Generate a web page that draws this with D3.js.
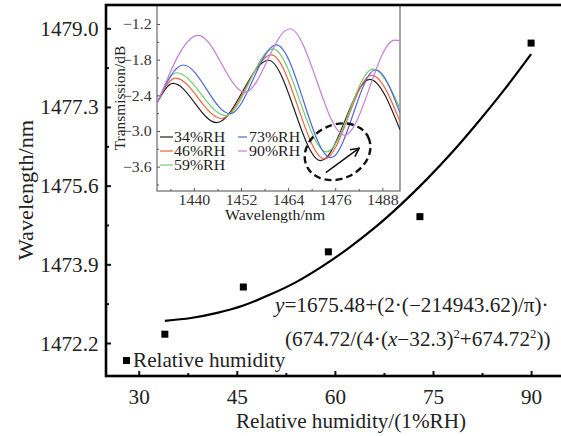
<!DOCTYPE html>
<html>
<head>
<meta charset="utf-8">
<script src="https://cdn.jsdelivr.net/npm/d3@7"></script>
<style>
  body { margin: 0; background: #fff; }
  svg { display: block; font-family: "Liberation Serif", "Times New Roman", serif; }
</style>
</head>
<body>
<svg id="chart" width="561" height="436"></svg>
<script>
// main chart data (humidity vs dip wavelength)
const humidity = [34, 46, 59, 73, 90];
const wavelength = [1472.39, 1473.41, 1474.17, 1474.93, 1478.68];
const xTicks = [30, 45, 60, 75, 90];
const yTicks = [1472.2, 1473.9, 1475.6, 1477.3, 1479.0];

// fitted curve
const fitX = [34, 38, 42, 46, 50, 54, 58, 62, 66, 70, 74, 78, 82, 86, 90];
const fitY = [1472.68, 1472.74, 1472.85, 1473.01, 1473.24, 1473.51, 1473.85, 1474.24,
              1474.68, 1475.18, 1475.73, 1476.33, 1476.99, 1477.69, 1478.44];

// inset spectra (wavelength nm, transmission dB) at extremes
const rhLabels = ['34%RH', '46%RH', '59%RH', '73%RH', '90%RH'];
const rhColors = ['#231f20', '#f2603f', '#72cc6e', '#4d68d6', '#c67ed8'];
const wl34 = [1430.6, 1434.7, 1445.8, 1459.0, 1472.3, 1484.8, 1492.5];
const tr34 = [-2.53, -2.20, -2.86, -1.81, -3.50, -2.13, -2.98];
const wl46 = [1430.6, 1435.3, 1447.0, 1459.7, 1473.3, 1485.3, 1492.5];
const tr46 = [-2.53, -2.11, -2.79, -1.72, -3.47, -2.06, -2.84];
const wl59 = [1430.6, 1435.6, 1448.1, 1460.1, 1473.8, 1485.6, 1492.5];
const tr59 = [-2.53, -2.02, -2.74, -1.62, -3.35, -1.96, -2.62];
const wl73 = [1430.6, 1437.3, 1449.2, 1461.0, 1474.9, 1486.3, 1492.5];
const tr73 = [-2.53, -1.89, -2.71, -1.55, -3.45, -1.97, -2.70];
const wl90 = [1430.6, 1441.1, 1453.0, 1464.4, 1478.4, 1491.1, 1492.5];
const tr90 = [-2.55, -1.39, -2.35, -1.28, -3.07, -1.47, -1.48];
const insetXTicks = [1440, 1452, 1464, 1476, 1488];
const insetYTicks = [-1.2, -1.8, -2.4, -3.0, -3.6];

const svg = d3.select('#chart');
const SX = 1.06; // the picture is a bit wider than normal Times

function label(g, x, y, txt, size, anchor, rot) {
    const t = g.append('text')
        .attr('transform', `translate(${x},${y})` + (rot ? ` rotate(${rot})` : '') + ` scale(${SX},1)`)
        .attr('font-size', size)
        .attr('text-anchor', anchor || 'start')
        .attr('fill', '#222');
    if (txt !== null) t.text(txt);
    return t;
}

// ---------- main plot ----------
const x = d3.scaleLinear().domain([25, 95]).range([106, 563.8]);
const y = d3.scaleLinear().domain([1471.487, 1479.503]).range([376, 5]);

const minorX = [37.5, 52.5, 67.5, 82.5];
const minorY = [1473.05, 1474.75, 1476.45, 1478.15];

const xAxis = svg.append('g').attr('transform', 'translate(0,376)')
    .call(d3.axisBottom(x).tickValues(xTicks).tickSize(-5).tickPadding(14).tickSizeOuter(0));
svg.append('g').attr('transform', 'translate(0,376)')
    .call(d3.axisBottom(x).tickValues(minorX).tickSize(-3).tickFormat('').tickSizeOuter(0));
const yAxis = svg.append('g').attr('transform', 'translate(106,0)')
    .call(d3.axisLeft(y).tickValues(yTicks).tickSize(-5).tickPadding(7)
        .tickFormat(d3.format('.1f')).tickSizeOuter(0));
svg.append('g').attr('transform', 'translate(106,0)')
    .call(d3.axisLeft(y).tickValues(minorY).tickSize(-3).tickFormat('').tickSizeOuter(0));

svg.selectAll('.domain').remove();
svg.selectAll('.tick line').attr('stroke', '#111').attr('stroke-width', 2);
svg.selectAll('.tick text')
    .attr('font-family', '"Liberation Serif", serif')
    .attr('font-size', 20).attr('fill', '#222');
xAxis.selectAll('.tick text').attr('transform', `scale(${SX},1)`).attr('dy', '0.71em');
yAxis.selectAll('.tick text').attr('transform', `scale(${SX},1)`).attr('dy', '0.35em');

// fit curve
const fitLine = d3.line()
    .x((d, i) => x(fitX[i]))
    .y(d => y(d))
    .curve(d3.curveMonotoneX);
svg.append('path').datum(fitY)
    .attr('d', fitLine)
    .attr('fill', 'none').attr('stroke', '#000').attr('stroke-width', 2.2);

// measured points
svg.selectAll('rect.pt').data(humidity).join('rect')
    .attr('class', 'pt')
    .attr('x', d => x(d) - 3.5)
    .attr('y', (d, i) => y(wavelength[i]) - 3.5)
    .attr('width', 7).attr('height', 7)
    .attr('fill', '#000');

// legend for the main plot
svg.append('rect').attr('x', 123).attr('y', 357).attr('width', 7).attr('height', 7).attr('fill', '#000');
label(svg, 133, 367, 'Relative humidity', 20);

// equation
const eq1 = label(svg, 275, 312, null, 20);
eq1.append('tspan').attr('font-style', 'italic').text('y');
eq1.append('tspan').text('=1675.48+(2·(−214943.62)/π)·');
const eq2 = label(svg, 285, 346, null, 20);
eq2.append('tspan').text('(674.72/(4·(');
eq2.append('tspan').attr('font-style', 'italic').text('x');
eq2.append('tspan').text('−32.3)');
eq2.append('tspan').attr('font-size', 12).attr('dy', -8).text('2');
eq2.append('tspan').attr('dy', 8).text('+674.72');
eq2.append('tspan').attr('font-size', 12).attr('dy', -8).text('2');
eq2.append('tspan').attr('dy', 8).text('))');

// axis titles
label(svg, 351, 428, 'Relative humidity/(1%RH)', 20, 'middle');
label(svg, 33, 190, 'Wavelength/nm', 21, 'middle', -90);

// ---------- inset ----------
const ix = d3.scaleLinear().domain([1430.6, 1492.5]).range([157, 400]);
const iy = d3.scaleLinear().domain([-4.01, -0.88]).range([191, 5]);
const inset = svg.append('g');

inset.append('rect')
    .attr('x', 157).attr('y', 5).attr('width', 243).attr('height', 186)
    .attr('fill', '#fff').attr('stroke', '#6a6a6a').attr('stroke-width', 1.2);

svg.append('clipPath').attr('id', 'insetClip')
    .append('rect').attr('x', 157).attr('y', 5).attr('width', 243).attr('height', 186);

const ixAxis = inset.append('g').attr('transform', 'translate(0,191)')
    .call(d3.axisBottom(ix).tickValues(insetXTicks).tickSize(-3).tickPadding(3).tickFormat(d3.format('d')).tickSizeOuter(0));
inset.append('g').attr('transform', 'translate(0,191)')
    .call(d3.axisBottom(ix).tickValues([1434, 1446, 1458, 1470, 1482]).tickSize(-2).tickFormat('').tickSizeOuter(0));
const iyAxis = inset.append('g').attr('transform', 'translate(157,0)')
    .call(d3.axisLeft(iy).tickValues(insetYTicks).tickSize(-3).tickPadding(5).tickFormat(d3.format('.1f')).tickSizeOuter(0));
inset.append('g').attr('transform', 'translate(157,0)')
    .call(d3.axisLeft(iy).tickValues([-1.5, -2.1, -2.7, -3.3, -3.9]).tickSize(-2).tickFormat('').tickSizeOuter(0));
inset.selectAll('.domain').remove();
inset.selectAll('.tick line').attr('stroke', '#555').attr('stroke-width', 1);
inset.selectAll('.tick text')
    .attr('font-family', '"Liberation Serif", serif')
    .attr('font-size', 15).attr('fill', '#333');
ixAxis.selectAll('.tick text').attr('transform', `scale(${SX},1)`);
iyAxis.selectAll('.tick text').attr('transform', `scale(${SX},1)`);

const specs = [[wl34, tr34], [wl46, tr46], [wl59, tr59], [wl73, tr73], [wl90, tr90]];
const specLine = d3.line()
    .x(d => ix(d[0]))
    .y(d => iy(d[1]))
    .curve(d3.curveMonotoneX);
inset.append('g').attr('clip-path', 'url(#insetClip)')
    .selectAll('path').data(specs).join('path')
    .attr('d', s => specLine(s[0].map((w, i) => [w, s[1][i]])))
    .attr('fill', 'none')
    .attr('stroke', (s, i) => rhColors[i])
    .attr('stroke-width', 1.2);

// inset legend
const legPos = [[160, 137], [160, 151], [160, 165], [238, 137], [238, 151]];
rhLabels.forEach((lab, i) => {
    const [lx, ly] = legPos[i];
    inset.append('line')
        .attr('x1', lx).attr('x2', lx + (i < 3 ? 13 : 9))
        .attr('y1', ly).attr('y2', ly)
        .attr('stroke', rhColors[i]).attr('stroke-width', 1.2);
    label(inset, lx + (i < 3 ? 14 : 11), ly + 5, lab, 15);
});

// ellipse + arrow marking the shift
const ex = ix(1476.6), ey = iy(-3.35);
inset.append('ellipse')
    .attr('transform', `translate(${ex},${ey}) rotate(-25)`)
    .attr('rx', 34).attr('ry', 27)
    .attr('fill', 'none').attr('stroke', '#111')
    .attr('stroke-width', 2.4).attr('stroke-dasharray', '7,4');
svg.append('defs').append('marker')
    .attr('id', 'arr').attr('viewBox', '0 0 10 10').attr('refX', 9).attr('refY', 5)
    .attr('markerWidth', 7).attr('markerHeight', 7).attr('orient', 'auto')
    .append('path').attr('d', 'M1,1 L9,5 L1,9').attr('fill', 'none').attr('stroke', '#111').attr('stroke-width', 1.5);
inset.append('line')
    .attr('x1', ix(1473.6)).attr('y1', iy(-3.70))
    .attr('x2', ix(1482.1)).attr('y2', iy(-3.29))
    .attr('stroke', '#111').attr('stroke-width', 1.5)
    .attr('marker-end', 'url(#arr)');

label(inset, 275, 220, 'Wavelength/nm', 15, 'middle');
label(inset, 125, 98, 'Transmission/dB', 14.5, 'middle', -90);

// main frame on top
svg.append('rect')
    .attr('x', 106).attr('y', 5).attr('width', 457.8).attr('height', 371)
    .attr('fill', 'none').attr('stroke', '#000').attr('stroke-width', 2.6);
</script>
</body>
</html>
